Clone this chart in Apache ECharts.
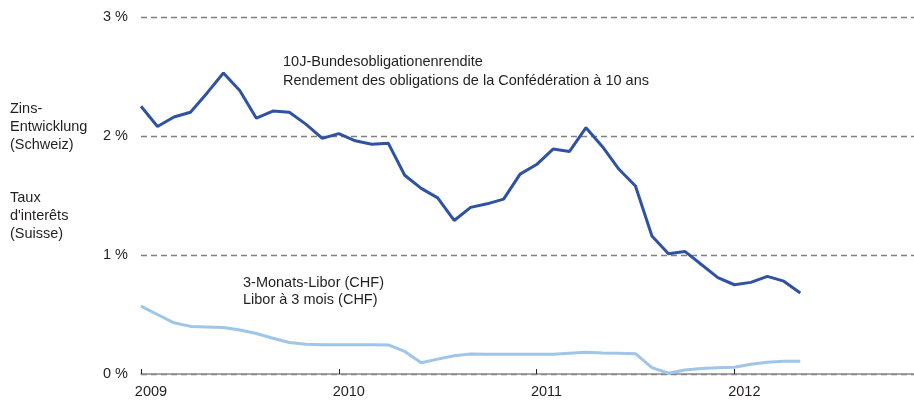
<!DOCTYPE html>
<html>
<head>
<meta charset="utf-8">
<script src="https://cdn.jsdelivr.net/npm/echarts@6/dist/echarts.min.js"></script>
<style>
  html, body { margin: 0; padding: 0; background: #fff; }
  #chart { width: 914px; height: 403px; }
</style>
</head>
<body>
<div id="chart"></div>
<script>
// months since Jan 2009, monthly values Jan 2009 .. May 2012 (in %)
const bondYield = [
  2.25, 2.08, 2.16, 2.20, 2.36, 2.53, 2.38, 2.15, 2.21, 2.20, 2.10, 1.98,
  2.02, 1.96, 1.93, 1.94, 1.67, 1.56, 1.48, 1.29, 1.40, 1.43, 1.47, 1.68,
  1.76, 1.89, 1.87, 2.07, 1.91, 1.72, 1.58, 1.16, 1.01, 1.03, 0.92, 0.81,
  0.75, 0.77, 0.82, 0.78, 0.68
]
const libor = [
  0.57, 0.50, 0.43, 0.40, 0.395, 0.39, 0.37, 0.34, 0.30, 0.265, 0.25, 0.245,
  0.245, 0.245, 0.245, 0.244, 0.19, 0.095, 0.125, 0.154, 0.168, 0.167, 0.165, 0.165,
  0.165, 0.165, 0.175, 0.182, 0.176, 0.174, 0.171, 0.053, 0.006, 0.034, 0.046, 0.052,
  0.056, 0.082, 0.098, 0.107, 0.107
]
const yearTickMonths = [0, 12, 24, 36]
const yearLabels = ['2009', '2010', '2011', '2012']
const yTicks = [0, 1, 2, 3]

const FONT = '"Liberation Sans", Arial, sans-serif'
const FS = 14.5
const TEXT = '#231f20'

const chart = echarts.init(document.getElementById('chart'))

function pairs(values) {
  return values.map((v, i) => [i, v])
}

chart.setOption({
  animation: false,
  grid: { left: 141, right: 0, top: 17, bottom: 29 },
  xAxis: {
    type: 'value',
    min: 0,
    max: 46.9,
    axisLine: { lineStyle: { color: '#8c8c8c', width: 1.5 } },
    axisTick: {
      inside: true,
      length: 5,
      customValues: yearTickMonths,
      lineStyle: { color: '#231f20' },
    },
    axisLabel: {
      color: TEXT,
      fontFamily: FONT,
      fontSize: FS,
      margin: 10,
      padding: [0, 0, 0, 20],
      customValues: yearTickMonths,
      formatter: (v) => yearLabels[yearTickMonths.indexOf(v)] || '',
    },
    splitLine: { show: false },
  },
  yAxis: {
    type: 'value',
    min: 0,
    max: 3,
    interval: 1,
    axisLine: { show: false },
    axisTick: { show: false },
    axisLabel: {
      color: TEXT,
      fontFamily: FONT,
      fontSize: FS,
      margin: 13,
      formatter: (v) => (yTicks.includes(v) ? v + ' %' : ''),
    },
    splitLine: { lineStyle: { color: '#7f7f7f', type: [6, 4], width: 1.3 } },
  },
  series: [
    {
      name: '10J-Bundesobligationenrendite',
      type: 'line',
      data: pairs(bondYield),
      symbol: 'none',
      lineStyle: { color: '#2f52a3', width: 3 },
      z: 3,
    },
    {
      name: '3-Monats-Libor (CHF)',
      type: 'line',
      data: pairs(libor),
      symbol: 'none',
      lineStyle: { color: '#9fc5e8', width: 3 },
      z: 2,
    },
  ],
  graphic: [
    {
      type: 'text', left: 10, top: 100,
      style: { text: 'Zins-\nEntwicklung\n(Schweiz)', font: FS + 'px ' + FONT, fill: TEXT, lineHeight: 18 },
    },
    {
      type: 'text', left: 10, top: 189,
      style: { text: "Taux\nd'interêts\n(Suisse)", font: FS + 'px ' + FONT, fill: TEXT, lineHeight: 18 },
    },
    {
      type: 'text', left: 283, top: 52,
      style: {
        text: '10J-Bundesobligationenrendite\nRendement des obligations de la Confédération à 10 ans',
        font: FS + 'px ' + FONT, fill: TEXT, lineHeight: 19,
      },
    },
    {
      type: 'text', left: 243, top: 274,
      style: { text: '3-Monats-Libor (CHF)\nLibor à 3 mois (CHF)', font: FS + 'px ' + FONT, fill: TEXT, lineHeight: 17.5 },
    },
  ],
})
</script>
</body>
</html>
